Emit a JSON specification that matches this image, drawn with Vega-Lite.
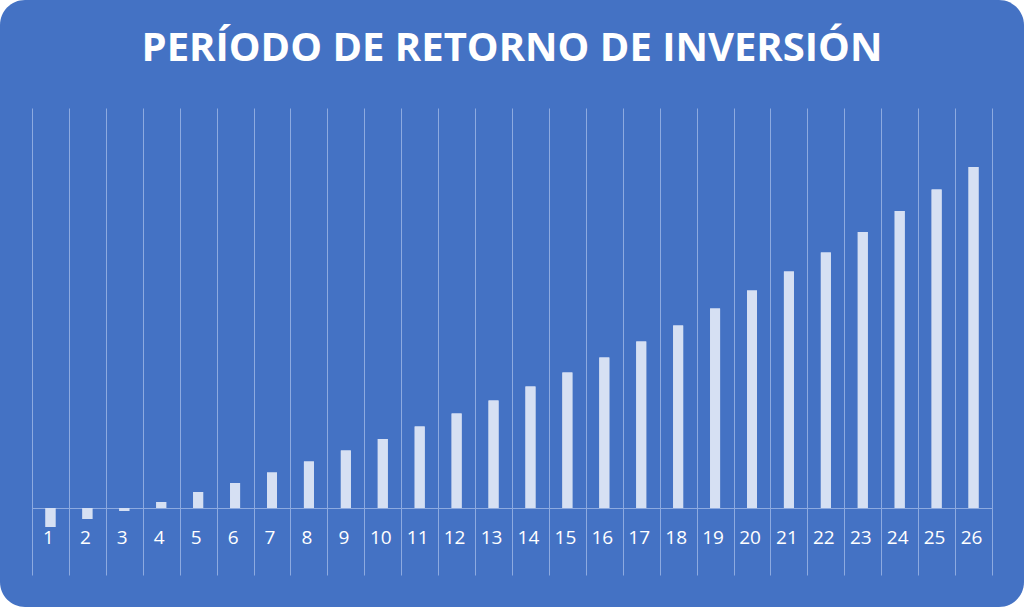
{
  "$schema": "https://vega.github.io/schema/vega-lite/v6.json",
  "width": 1024,
  "height": 607,
  "autosize": {"type": "none"},
  "padding": 0,
  "background": "#ffffff",
  "title": {
    "text": "PERÍODO DE RETORNO DE INVERSIÓN",
    "color": "#ffffff",
    "font": "Open Sans",
    "fontSize": 40,
    "fontWeight": "bold",
    "anchor": "middle",
    "baseline": "alphabetic",
    "offset": -101
  },
  "data": {
    "values": [
      {"periodo": 1, "valor": -19},
      {"periodo": 2, "valor": -11},
      {"periodo": 3, "valor": -3},
      {"periodo": 4, "valor": 6},
      {"periodo": 5, "valor": 16},
      {"periodo": 6, "valor": 25},
      {"periodo": 7, "valor": 35.5},
      {"periodo": 8, "valor": 46.5},
      {"periodo": 9, "valor": 57.5},
      {"periodo": 10, "valor": 69},
      {"periodo": 11, "valor": 81.5},
      {"periodo": 12, "valor": 94.5},
      {"periodo": 13, "valor": 107.5},
      {"periodo": 14, "valor": 121.5},
      {"periodo": 15, "valor": 135.5},
      {"periodo": 16, "valor": 150.5},
      {"periodo": 17, "valor": 166.5},
      {"periodo": 18, "valor": 182.5},
      {"periodo": 19, "valor": 199.5},
      {"periodo": 20, "valor": 217.5},
      {"periodo": 21, "valor": 236.5},
      {"periodo": 22, "valor": 255.5},
      {"periodo": 23, "valor": 276},
      {"periodo": 24, "valor": 297},
      {"periodo": 25, "valor": 318.5},
      {"periodo": 26, "valor": 341}
    ]
  },
  "encoding": {
    "y": {
      "field": "valor",
      "type": "quantitative",
      "scale": {"domain": [-67, 400], "range": [575, 108], "nice": false, "zero": false},
      "axis": null
    }
  },
  "layer": [
    {
      "mark": {"type": "bar", "width": 10, "color": "#D6E0F3"},
      "encoding": {
        "x": {
          "field": "periodo",
          "type": "ordinal",
          "scale": {"range": [32, 992], "paddingInner": 0, "paddingOuter": 0},
          "axis": {
            "title": null,
            "orient": "top",
            "domain": false,
            "ticks": false,
            "labels": false,
            "grid": true,
            "gridColor": "#8DAAE0",
            "gridWidth": 1,
            "tickBand": "extent"
          }
        }
      }
    },
    {
      "mark": {"type": "bar", "width": 10, "color": "#D6E0F3"},
      "encoding": {
        "x": {
          "field": "periodo",
          "type": "ordinal",
          "axis": {
            "title": null,
            "orient": "bottom",
            "offset": -99,
            "domainColor": "#8DAAE0",
            "domainWidth": 1,
            "ticks": false,
            "grid": false,
            "labelAngle": 0,
            "labelColor": "#ffffff",
            "labelFont": "Open Sans",
            "labelFontSize": 19,
            "labelPadding": 20,
            "labelOffset": -2
          }
        }
      }
    }
  ],
  "resolve": {"axis": {"x": "independent"}},
  "config": {
    "view": {"fill": "#4472C4", "stroke": null, "cornerRadius": 25}
  }
}
